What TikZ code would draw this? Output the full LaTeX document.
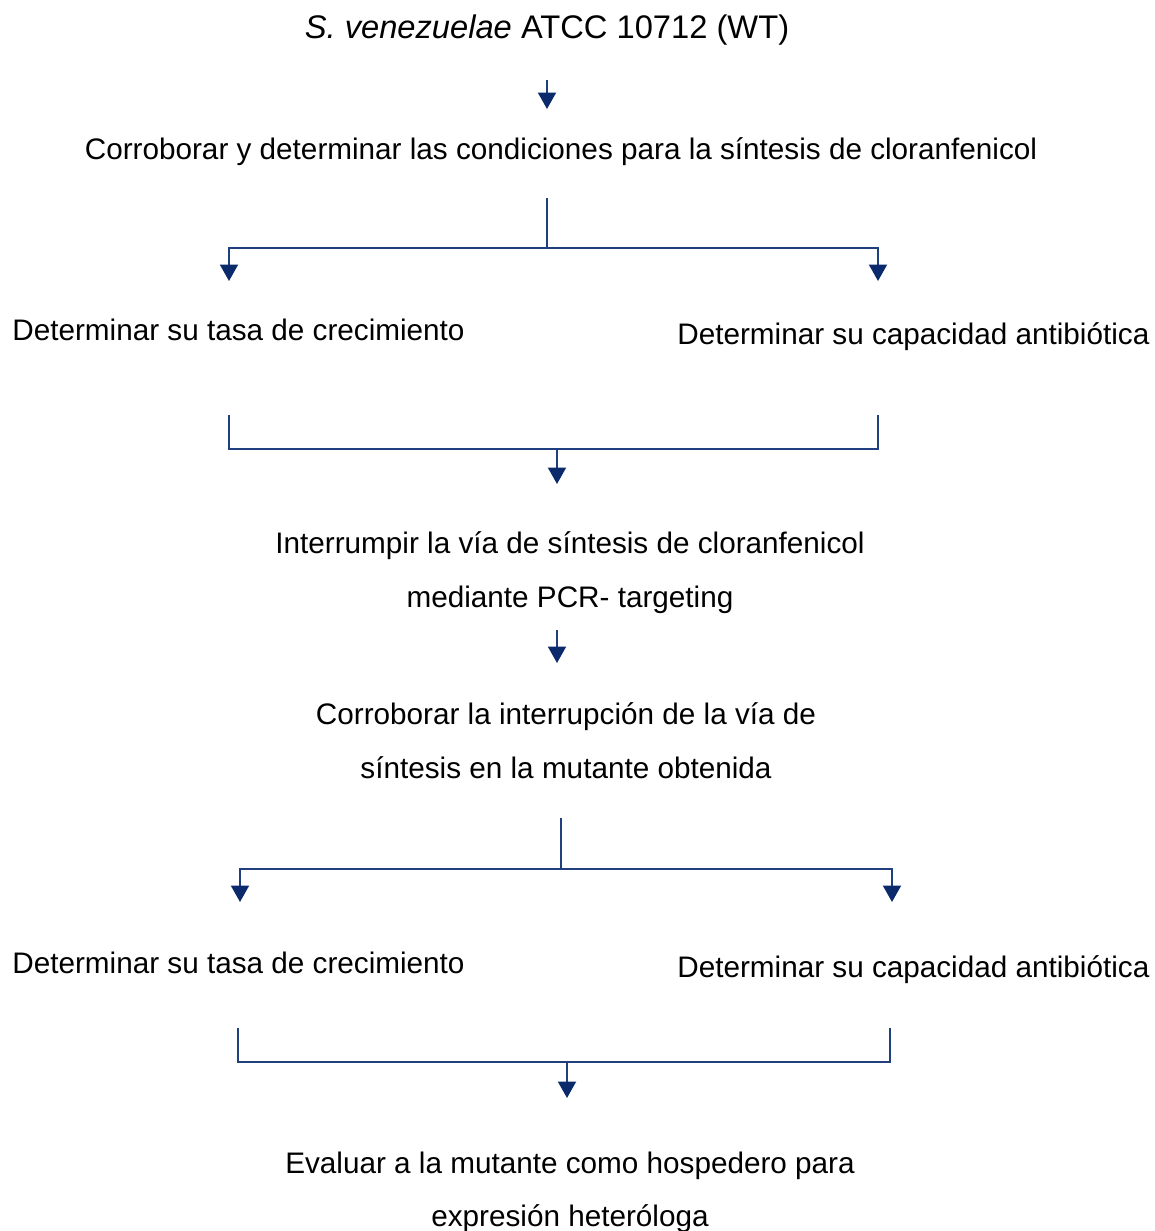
\documentclass[tikz,border=0pt]{standalone}
\usepackage{fontspec}
\setmainfont{Liberation Sans}
\usetikzlibrary{arrows.meta}
\definecolor{navy}{HTML}{1F3F7E}
\definecolor{darknavy}{HTML}{0B2A6C}
\tikzset{
    txt/.style={anchor=base, inner sep=0pt, font=\fontsize{16.9}{20}\selectfont},
    link/.style={draw=navy, line width=1.2pt},
}
\begin{document}
\begin{tikzpicture}[x=0.02cm, y=-0.02cm, >={Triangle[width=0.36cm,length=0.33cm,color=darknavy]}]
    \useasboundingbox (0,0) rectangle (1155,1231);
    % texts
    \node[txt, font=\fontsize{18.6}{22}\selectfont] (wt) at (547,38) {\textit{S. venezuelae} ATCC 10712 (WT)};
    \node[txt] (cond) at (561,159) {Corroborar y determinar las condiciones para la síntesis de cloranfenicol};
    \node[txt, anchor=base west] (tasaA) at (12,340) {Determinar su tasa de crecimiento};
    \node[txt, anchor=base west] (capA) at (677,344) {Determinar su capacidad antibiótica};
    \node[txt] (inter) at (570,553) {Interrumpir la vía de síntesis de cloranfenicol};
    \node[txt] (pcr) at (570,607) {mediante PCR- targeting};
    \node[txt] (corr) at (566,724) {Corroborar la interrupción de la vía de};
    \node[txt] (mut) at (566,778) {síntesis en la mutante obtenida};
    \node[txt, anchor=base west] (tasaB) at (12,973) {Determinar su tasa de crecimiento};
    \node[txt, anchor=base west] (capB) at (677,977) {Determinar su capacidad antibiótica};
    \node[txt] (eval) at (570,1173) {Evaluar a la mutante como hospedero para};
    \node[txt] (het) at (570,1226) {expresión heteróloga};

    % junction points
    \coordinate (a1) at (547,80);
    \coordinate (a2) at (547,109);
    \coordinate (s1) at (547,198);
    \coordinate (s1m) at (547,248);
    \coordinate (s1l) at (229,281);
    \coordinate (s1r) at (878,281);
    \coordinate (m1l) at (229,415);
    \coordinate (m1r) at (878,415);
    \coordinate (m1) at (557,449);
    \coordinate (m1e) at (557,484);
    \coordinate (b1) at (557,630);
    \coordinate (b2) at (557,663);
    \coordinate (s2) at (561,818);
    \coordinate (s2m) at (561,869);
    \coordinate (s2l) at (240,902);
    \coordinate (s2r) at (892,902);
    \coordinate (m2l) at (238,1028);
    \coordinate (m2r) at (890,1028);
    \coordinate (m2) at (567,1062);
    \coordinate (m2e) at (567,1098);

    % connectors
    \draw[link, ->] (a1) -- (a2);
    \draw[link] (s1) -- (s1m);
    \draw[link, ->] (s1m) -| (s1l);
    \draw[link, ->] (s1m) -| (s1r);
    \draw[link] (m1l) |- (m1);
    \draw[link] (m1r) |- (m1);
    \draw[link, ->] (m1) -- (m1e);
    \draw[link, ->] (b1) -- (b2);
    \draw[link] (s2) -- (s2m);
    \draw[link, ->] (s2m) -| (s2l);
    \draw[link, ->] (s2m) -| (s2r);
    \draw[link] (m2l) |- (m2);
    \draw[link] (m2r) |- (m2);
    \draw[link, ->] (m2) -- (m2e);
\end{tikzpicture}
\end{document}
